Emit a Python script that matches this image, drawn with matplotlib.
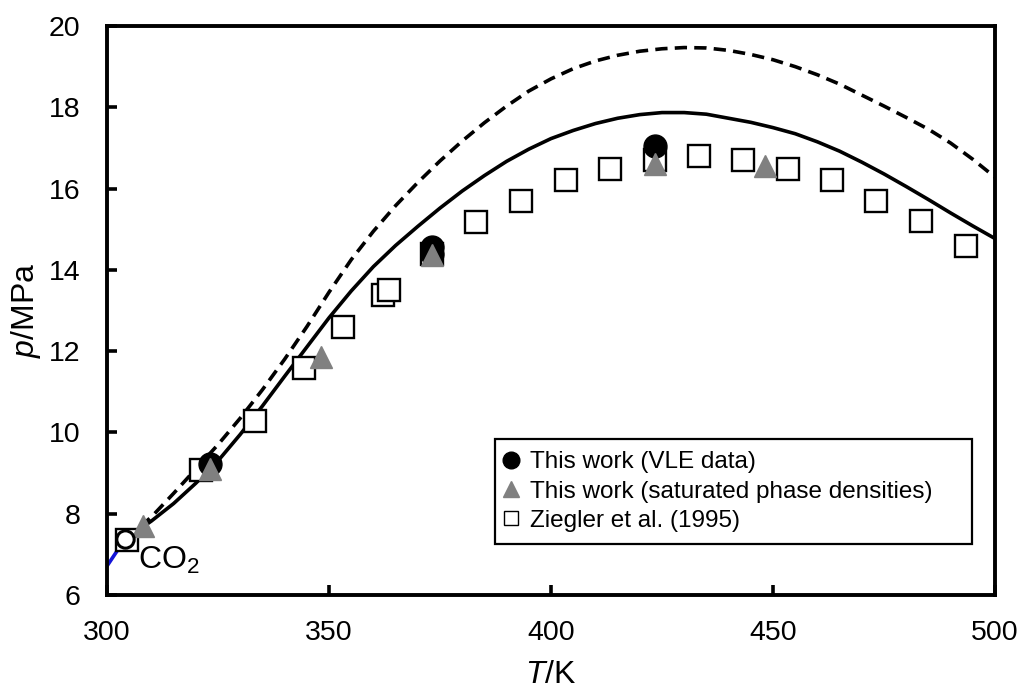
import matplotlib
matplotlib.use("Agg")
import matplotlib.pyplot as plt
from matplotlib.lines import Line2D
from matplotlib.patches import Rectangle

plt.rcParams["font.family"] = ["Liberation Sans", "DejaVu Sans"]
plt.rcParams["mathtext.fontset"] = "custom"
plt.rcParams["mathtext.rm"] = "Liberation Sans"
plt.rcParams["mathtext.it"] = "Liberation Sans:italic"

# ------------------------------------------------------------------
# Critical curve of the CO2 mixture: model (solid) and model variant (dashed)
# ------------------------------------------------------------------
T_model = [304.13, 305, 310, 315, 320, 325, 330, 335, 340, 345, 350, 355,
           360, 365, 370, 375, 380, 385, 390, 395, 400, 405, 410, 415, 420,
           425, 430, 435, 440, 445, 450, 455, 460, 465, 470, 475, 480, 485,
           490, 495, 500]
p_model = [7.38, 7.44, 7.82, 8.25, 8.75, 9.3, 9.95, 10.65, 11.38, 12.1,
           12.82, 13.48, 14.08, 14.6, 15.07, 15.52, 15.94, 16.32, 16.67,
           16.97, 17.23, 17.43, 17.6, 17.73, 17.82, 17.87, 17.87, 17.83,
           17.73, 17.63, 17.5, 17.35, 17.15, 16.92, 16.65, 16.36, 16.05,
           15.73, 15.4, 15.08, 14.77]

T_dashed = [304.13, 305, 310, 315, 320, 325, 330, 335, 340, 345, 350, 355,
            360, 365, 370, 375, 380, 385, 390, 395, 400, 405, 410, 415, 420,
            425, 430, 435, 440, 445, 450, 455, 460, 465, 470, 475, 480, 485,
            490, 495, 500]
p_dashed = [7.38, 7.45, 7.92, 8.5, 9.1, 9.7, 10.35, 11.05, 11.8, 12.6,
            13.45, 14.25, 14.95, 15.58, 16.15, 16.68, 17.17, 17.62, 18.03,
            18.4, 18.7, 18.95, 19.14, 19.28, 19.38, 19.44, 19.47, 19.46,
            19.4, 19.3, 19.17, 19.0, 18.8, 18.57, 18.3, 18.03, 17.75, 17.46,
            17.12, 16.72, 16.28]

# pure CO2 vapour pressure up to its critical point
T_co2 = [300.0, 302.0, 304.13]
p_co2 = [6.713, 7.04, 7.377]
T_co2_crit = 304.13
p_co2_crit = 7.377

# measurements
T_vle = [323.2, 373.2, 373.2, 423.4]
p_vle = [9.22, 14.56, 14.38, 17.04]

T_dens = [308.2, 323.2, 348.1, 373.3, 423.4, 448.3]
p_dens = [7.7, 9.1, 11.85, 14.36, 16.6, 16.55]

T_zieg = [304.4, 321.2, 333.3, 344.4, 353.2, 362.2, 363.5, 373.2, 383.2,
          393.2, 403.3, 413.3, 423.4, 433.3, 443.3, 453.3, 463.3, 473.3,
          483.3, 493.4]
p_zieg = [7.36, 9.07, 10.27, 11.58, 12.59, 13.38, 13.5, 14.4, 15.18, 15.69,
          16.2, 16.49, 16.7, 16.8, 16.7, 16.49, 16.2, 15.69, 15.19, 14.59]

fig = plt.figure(figsize=(10.24, 6.9), dpi=100)
ax = fig.add_axes([0.1045, 0.1377, 0.8672, 0.8246])

ax.plot(T_dashed, p_dashed, color="black", lw=2.6, dashes=(3.4, 2.0))
ax.plot(T_model, p_model, color="black", lw=2.6)
ax.plot(T_co2, p_co2, color="#1414d8", lw=2.6)

ax.plot(T_zieg, p_zieg, "s", ms=16, mfc="white", mec="black", mew=1.7,
        ls="none", zorder=3)
ax.plot(T_vle, p_vle, "o", ms=16.5, color="black", ls="none", zorder=4)
ax.plot(T_dens, p_dens, "^", ms=15.5, color="#808080", ls="none", zorder=5)
ax.plot([T_co2_crit], [p_co2_crit], "o", ms=12.5, mfc="white", mec="black",
        mew=2.2, zorder=6)

ax.text(307, 6.64, r"CO$_\mathrm{2}$", fontsize=23, ha="left", va="baseline")

ax.set_xlim(300, 500)
ax.set_ylim(6, 20)
ax.set_xticks([300, 350, 400, 450, 500])
ax.set_yticks([6, 8, 10, 12, 14, 16, 18, 20])
ax.tick_params(direction="in", length=7, width=2.6, labelsize=20.5,
               top=False, right=False)
ax.tick_params(axis="x", pad=18)
ax.tick_params(axis="y", pad=19)
for side in ax.spines.values():
    side.set_linewidth(2.8)

ax.set_xlabel(r"$T$/K", fontsize=23, labelpad=10)
ax.set_ylabel(r"$p$/MPa", fontsize=23, labelpad=4)

# legend: entries without their own frame, box drawn separately (wider on the right)
handles = [
    Line2D([], [], marker="o", ms=12, color="black", ls="none"),
    Line2D([], [], marker="^", ms=12, color="#808080", ls="none"),
    Line2D([], [], marker="s", ms=9.5, mfc="white", mec="black", mew=1.0,
           ls="none"),
]
labels = ["This work (VLE data)",
          "This work (saturated phase densities)",
          "Ziegler et al. (1995)"]
box_x0, box_y0, box_x1, box_y1 = 0.437, 0.0895, 0.974, 0.2737
ax.add_patch(Rectangle((box_x0, box_y0), box_x1 - box_x0, box_y1 - box_y0,
                       transform=ax.transAxes, facecolor="white",
                       edgecolor="black", lw=1.6, zorder=7))
leg = ax.legend(handles, labels, loc="center left",
                bbox_to_anchor=(box_x0, (box_y0 + box_y1) / 2),
                fontsize=17.5, frameon=False, handlelength=0.7,
                handletextpad=0.45, labelspacing=0.3, borderpad=0.3,
                borderaxespad=0)
leg.set_zorder(8)

fig.savefig("out.png", dpi=100)
